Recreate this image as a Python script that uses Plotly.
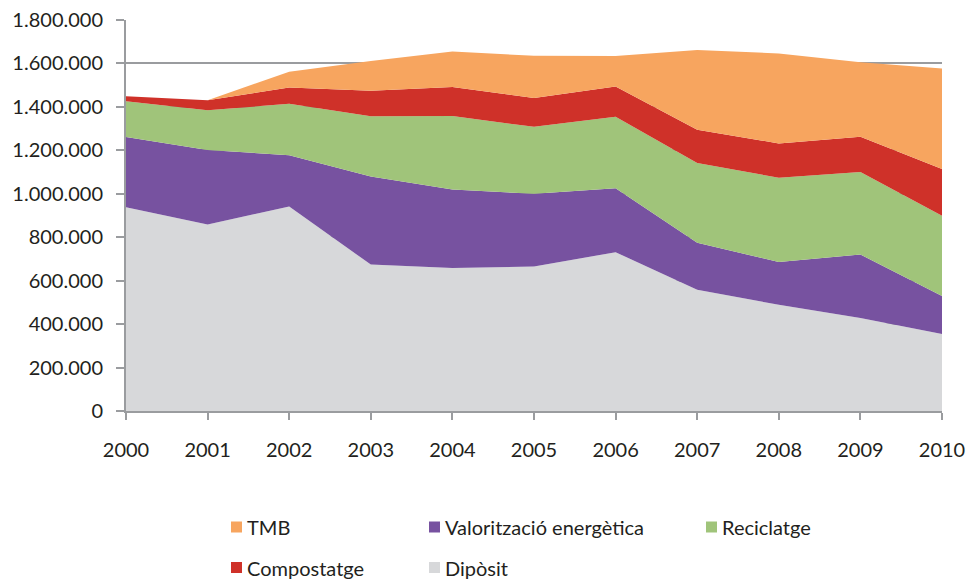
import plotly.graph_objects as go

# Anys i tones per tractament (lectura aproximada del gràfic)
anys = [2000, 2001, 2002, 2003, 2004, 2005, 2006, 2007, 2008, 2009, 2010]
diposit = [938000, 858000, 942000, 674000, 658000, 665000, 731000, 558000, 489000, 428000, 354000]
valoritzacio = [323000, 344000, 235000, 406000, 362000, 335000, 295000, 216000, 197000, 292000, 175000]
reciclatge = [165000, 183000, 237000, 277000, 338000, 308000, 329000, 368000, 388000, 380000, 370000]
compostatge = [23000, 46000, 75000, 117000, 133000, 133000, 139000, 153000, 158000, 162000, 215000]
tmb = [0, 0, 73000, 137000, 164000, 194000, 140000, 367000, 414000, 344000, 463000]

y_ticks = [0, 200000, 400000, 600000, 800000, 1000000, 1200000, 1400000, 1600000, 1800000]

series = [
    ("Dipòsit", diposit, "#D7D8DA"),
    ("Valorització energètica", valoritzacio, "#7752A0"),
    ("Reciclatge", reciclatge, "#A0C47A"),
    ("Compostatge", compostatge, "#CF3129"),
    ("TMB", tmb, "#F7A55F"),
]

FONT = "Lato"
TXT = "#231F20"
GRIS = "#9A9C9F"

fig = go.Figure()
for nom, vals, color in series:
    fig.add_trace(go.Scatter(
        x=anys, y=vals, name=nom, stackgroup="one",
        mode="lines", line=dict(width=0, color=color),
        fillcolor=color, showlegend=False,
    ))

# area del gràfic en píxels
L, R, T, B = 126, 942, 20, 411


def px(x):
    return (x - L) / (R - L)


def py(y):
    return (B - y) / (B - T)


# llegenda manual (estil Excel, 3 columnes)
llegenda = [
    ("TMB", "#F7A55F", 231, 527),
    ("Valorització energètica", "#7752A0", 429, 527),
    ("Reciclatge", "#A0C47A", 706, 527),
    ("Compostatge", "#CF3129", 231, 567.5),
    ("Dipòsit", "#D7D8DA", 429, 567.5),
]
shapes = []
annotations = []
for txt, col, x0, yc in llegenda:
    shapes.append(dict(type="rect", xref="paper", yref="paper",
                       x0=px(x0), x1=px(x0 + 11), y0=py(yc + 5.5), y1=py(yc - 5.5),
                       fillcolor=col, line=dict(width=0)))
    annotations.append(dict(text=txt, xref="paper", yref="paper",
                            x=px(x0 + 14), y=py(yc), xanchor="left", yanchor="middle",
                            showarrow=False, font=dict(family=FONT, size=20, color=TXT)))

fig.update_layout(
    width=968, height=580,
    margin=dict(l=L, r=968 - R, t=T, b=580 - B),
    paper_bgcolor="white", plot_bgcolor="white",
    separators=",.",
    font=dict(family=FONT, size=20, color=TXT),
    shapes=shapes, annotations=annotations,
    xaxis=dict(
        range=[2000, 2010], tickvals=anys, ticks="outside", ticklen=7,
        tickcolor=GRIS, tickwidth=2, showline=True, linecolor=GRIS,
        linewidth=2, showgrid=False, zeroline=False, ticklabelstandoff=13,
        tickfont=dict(size=20), automargin=False,
    ),
    yaxis=dict(
        range=[0, 1800000], tickvals=y_ticks, tickformat=",d", ticks="outside",
        ticklen=8, tickcolor=GRIS, tickwidth=2, showline=True,
        linecolor=GRIS, linewidth=2, showgrid=True, gridcolor=GRIS,
        gridwidth=2, zeroline=False, ticklabelstandoff=9, layer="below traces",
        tickfont=dict(size=20), automargin=False,
    ),
)

css = ("document.documentElement.style.margin='0';"
       "document.documentElement.style.overflow='hidden';"
       "document.body.style.margin='0';document.body.style.overflow='hidden';")
fig.write_html("out.html", config={"displayModeBar": False}, post_script=css)
